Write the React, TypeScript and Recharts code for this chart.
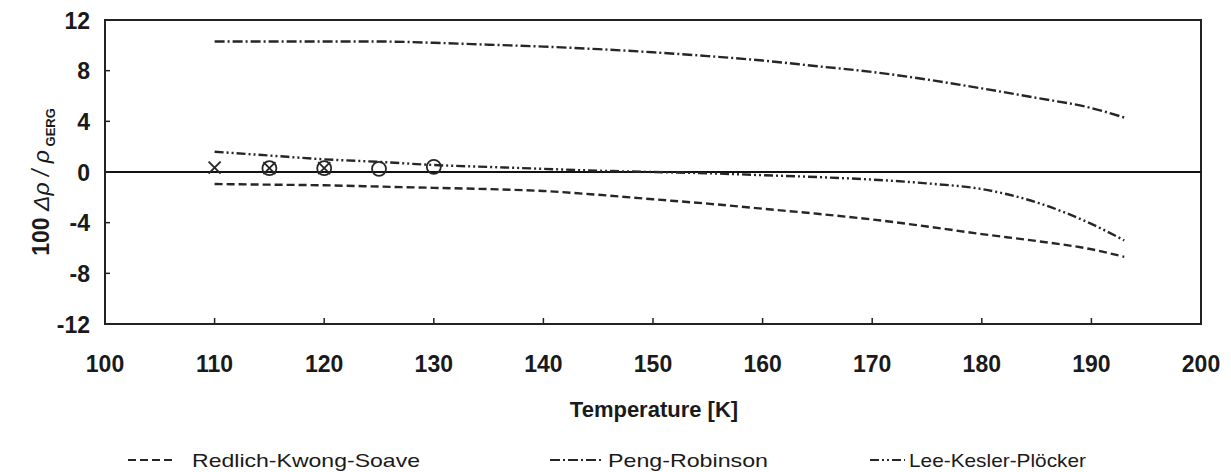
import React from 'react';
import {
  ComposedChart, Line, Scatter, XAxis, YAxis, ReferenceLine, ReferenceArea, Customized,
} from 'recharts';

// ---- data ----
const temps = [110, 115, 120, 125, 130, 135, 140, 145, 150, 155, 160, 165, 170, 175, 180, 185, 190, 193];
const rksValues = [-0.95, -1.0, -1.05, -1.15, -1.25, -1.35, -1.5, -1.8, -2.15, -2.5, -2.9, -3.3, -3.75, -4.3, -4.9, -5.45, -6.1, -6.7];
const prValues = [10.3, 10.3, 10.3, 10.3, 10.2, 10.05, 9.9, 9.7, 9.45, 9.15, 8.8, 8.35, 7.9, 7.3, 6.6, 5.85, 5.05, 4.3];
const lkpValues = [1.6, 1.3, 1.0, 0.8, 0.55, 0.4, 0.25, 0.1, 0.0, -0.1, -0.25, -0.4, -0.6, -0.9, -1.35, -2.4, -4.1, -5.4];

const crossTemps = [110, 115, 120];
const crossValues = [0.35, 0.3, 0.3];
const circleTemps = [115, 120, 125, 130];
const circleValues = [0.3, 0.3, 0.25, 0.4];

const xTicks = [100, 110, 120, 130, 140, 150, 160, 170, 180, 190, 200];
const yTicks = [-12, -8, -4, 0, 4, 8, 12];

const seriesNames = ['Redlich-Kwong-Soave', 'Peng-Robinson', 'Lee-Kesler-Plöcker'];

const rows = temps.map((t, i) => ({ T: t, rks: rksValues[i], pr: prValues[i], lkp: lkpValues[i] }));
const crossData = crossTemps.map((t, i) => ({ T: t, v: crossValues[i] }));
const circleData = circleTemps.map((t, i) => ({ T: t, v: circleValues[i] }));

// ---- styles ----
const FONT = '"Liberation Sans", Arial, Helvetica, sans-serif';
const LINE_COLOR = '#262626';
const AXIS_COLOR = '#222';
const DASH_RKS = '8 4';
const DASH_PR = '10 3 2 3';
const DASH_LKP = '9 3 2 3 2 3';
const LW = 2.4;

const XTick = (props: any) => {
  const { x, y, payload } = props;
  return (
    <g>
      <line x1={x} y1={y} x2={x} y2={y - 6} stroke={AXIS_COLOR} strokeWidth={1.5} />
      <text x={x} y={y + 48} textAnchor="middle" fontFamily={FONT} fontWeight="bold" fontSize={23} fill="#1a1a1a">
        {payload.value}
      </text>
    </g>
  );
};

const YTick = (props: any) => {
  const { x, y, payload } = props;
  return (
    <g>
      <line x1={x} y1={y} x2={x + 5} y2={y} stroke={AXIS_COLOR} strokeWidth={1.5} />
      <text x={x - 15} y={y + 8.5} textAnchor="end" fontFamily={FONT} fontWeight="bold" fontSize={23} fill="#1a1a1a">
        {payload.value}
      </text>
    </g>
  );
};

const XShape = (props: any) => {
  const { cx, cy } = props;
  const r = 6;
  return (
    <g stroke={LINE_COLOR} strokeWidth={1.8}>
      <line x1={cx - r} y1={cy - r} x2={cx + r} y2={cy + r} />
      <line x1={cx - r} y1={cy + r} x2={cx + r} y2={cy - r} />
    </g>
  );
};

const CircleShape = (props: any) => {
  const { cx, cy } = props;
  return <circle cx={cx} cy={cy} r={7} fill="none" stroke={LINE_COLOR} strokeWidth={1.8} />;
};

const Decorations = () => {
  const legendY = 459;
  const items = [
    { name: seriesNames[0], dash: DASH_RKS, lx1: 120, lx2: 165, tx: 184, tw: 228 },
    { name: seriesNames[1], dash: DASH_PR, lx1: 542, lx2: 594, tx: 600, tw: 160 },
    { name: seriesNames[2], dash: DASH_LKP, lx1: 862, lx2: 897, tx: 901, tw: 177 },
  ];
  return (
    <g>
      {/* y-axis title */}
      <text
        transform="translate(41,174) rotate(-90)"
        textAnchor="middle"
        fontFamily={FONT}
        fontSize={23}
        fill="#1a1a1a"
      >
        <tspan fontWeight="bold">100 </tspan>
        <tspan fontStyle="italic">Δρ / ρ</tspan>
        <tspan fontWeight="bold" fontSize={13} dy={6}> GERG</tspan>
      </text>
      {/* x-axis title */}
      <text x={646} y={409} textAnchor="middle" fontFamily={FONT} fontWeight="bold" fontSize={22} fill="#1a1a1a">
        Temperature [K]
      </text>
      {/* legend */}
      {items.map((it) => (
        <g key={it.name}>
          <line x1={it.lx1} y1={legendY - 7} x2={it.lx2} y2={legendY - 7} stroke={LINE_COLOR} strokeWidth={2} strokeDasharray={it.dash} />
          <text
            x={it.tx}
            y={legendY}
            fontFamily={FONT}
            fontSize={19}
            fill="#1a1a1a"
            textLength={it.tw}
            lengthAdjust="spacingAndGlyphs"
          >
            {it.name}
          </text>
        </g>
      ))}
    </g>
  );
};

export default function App() {
  return (
    <div style={{ width: 1215, height: 464 }}>
      <ComposedChart
        width={1215}
        height={464}
        data={rows}
        margin={{ top: 12, right: 22, bottom: 118, left: 37 }}
      >
        <XAxis
          dataKey="T"
          type="number"
          domain={[100, 200]}
          ticks={xTicks}
          interval={0}
          tickLine={false}
          tickSize={0}
          tickMargin={0}
          tick={<XTick />}
          axisLine={{ stroke: AXIS_COLOR, strokeWidth: 2 }}
          height={30}
          allowDataOverflow
        />
        <YAxis
          type="number"
          domain={[-12, 12]}
          ticks={yTicks}
          interval={0}
          tickLine={false}
          tickSize={0}
          tickMargin={0}
          tick={<YTick />}
          axisLine={{ stroke: AXIS_COLOR, strokeWidth: 2 }}
          width={60}
          allowDataOverflow
        />
        <ReferenceArea x1={100} x2={200} y1={-12} y2={12} fill="none" stroke={AXIS_COLOR} strokeWidth={2} ifOverflow="visible" />
        <ReferenceLine y={0} stroke="#111" strokeWidth={2} />
        <Line dataKey="pr" type="monotone" stroke={LINE_COLOR} strokeWidth={LW} strokeDasharray={DASH_PR} dot={false} isAnimationActive={false} />
        <Line dataKey="lkp" type="monotone" stroke={LINE_COLOR} strokeWidth={LW} strokeDasharray={DASH_LKP} dot={false} isAnimationActive={false} />
        <Line dataKey="rks" type="monotone" stroke={LINE_COLOR} strokeWidth={LW} strokeDasharray={DASH_RKS} dot={false} isAnimationActive={false} />
        <Scatter data={crossData} dataKey="v" shape={<XShape />} isAnimationActive={false} />
        <Scatter data={circleData} dataKey="v" shape={<CircleShape />} isAnimationActive={false} />
        <Customized component={<Decorations />} />
      </ComposedChart>
    </div>
  );
}
